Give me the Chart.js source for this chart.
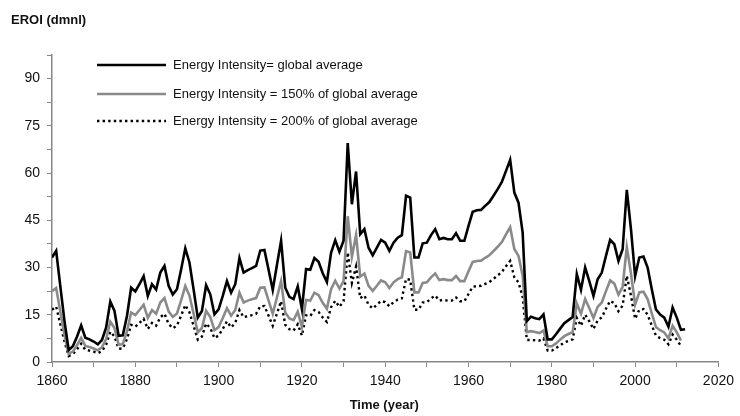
<!DOCTYPE html>
<html>
<head>
<meta charset="utf-8">
<script src="https://cdn.jsdelivr.net/npm/chart.js@4"></script>
<style>
html,body{margin:0;padding:0;background:#fff;}
#wrap{width:740px;height:416px;}
</style>
</head>
<body>
<div id="wrap"><canvas id="c" width="740" height="416"></canvas></div>
<script>
const startYear = 1860;
const endYear = 2012;
const years = Array.from({length: endYear - startYear + 1}, (_, i) => startYear + i);

const seriesNames = [
  "Energy Intensity= global average",
  "Energy Intensity = 150% of global average",
  "Energy Intensity = 200% of global average"
];

const eroiGlobal = [
  33.2, 35.3, 24.0, 13.0, 3.8, 5.0, 8.0, 11.6, 7.7, 7.2,
  6.5, 5.6, 7.0, 11.0, 19.2, 16.2, 8.3, 8.5, 14.6, 23.6,
  22.4, 24.7, 27.3, 21.0, 24.7, 23.0, 28.4, 30.5, 24.2, 21.4,
  23.1, 29.4, 36.1, 31.6, 23.0, 14.1, 16.2, 24.4, 21.5, 15.1,
  16.7, 21.0, 25.7, 22.0, 24.7, 33.0, 28.4, 29.2, 29.8, 30.5,
  35.4, 35.6, 29.3, 22.9, 30.8, 38.5, 23.6, 20.7, 20.0, 24.0,
  16.8, 29.5, 29.3, 33.0, 31.8, 28.2, 25.4, 34.7, 38.7, 35.0,
  38.5, 69.5, 50.1, 60.5, 40.6, 42.2, 36.3, 33.9, 36.3, 38.8,
  37.9, 35.3, 37.9, 39.5, 40.3, 52.8, 52.2, 33.2, 33.2, 37.7,
  37.9, 40.3, 42.2, 39.0, 39.4, 39.0, 39.0, 40.9, 38.5, 38.5,
  43.2, 47.7, 48.2, 48.3, 49.6, 50.8, 52.8, 54.9, 57.2, 60.7,
  64.2, 53.8, 50.6, 41.1, 13.0, 14.4, 13.9, 13.6, 15.1, 7.2,
  7.2, 8.8, 10.6, 12.3, 13.3, 14.3, 27.9, 22.9, 30.0, 25.7,
  21.0, 26.3, 28.4, 33.7, 38.8, 37.4, 32.1, 35.8, 54.7, 42.2,
  27.3, 33.2, 33.5, 30.0, 23.1, 16.7, 15.1, 14.1, 11.2, 17.3,
  14.1, 10.2, 10.4
];

const eroi150 = [
  22.5, 23.5, 16.0, 8.5, 2.6, 3.3, 5.3, 7.7, 5.1, 4.8,
  4.3, 3.7, 4.7, 7.3, 12.8, 10.8, 5.5, 5.7, 9.7, 15.7,
  14.9, 16.5, 18.2, 14.0, 16.5, 15.3, 18.9, 20.3, 16.1, 14.3,
  15.4, 19.6, 24.1, 21.1, 15.3, 9.4, 10.8, 16.3, 14.3, 10.1,
  11.1, 14.0, 17.1, 14.7, 16.5, 22.0, 18.9, 19.5, 19.9, 20.3,
  23.6, 23.7, 19.5, 15.3, 20.5, 25.7, 15.7, 13.8, 13.3, 16.0,
  11.2, 19.7, 19.5, 22.0, 21.2, 18.8, 16.9, 23.1, 25.8, 23.3,
  25.7, 46.3, 33.4, 40.3, 27.1, 28.1, 24.2, 22.6, 24.2, 25.9,
  25.3, 23.5, 25.3, 26.3, 26.9, 35.2, 34.8, 22.1, 22.1, 25.1,
  25.3, 26.9, 28.1, 26.0, 26.3, 26.0, 26.0, 27.3, 25.7, 25.7,
  28.8, 31.8, 32.1, 32.2, 33.1, 33.9, 35.2, 36.6, 38.1, 40.5,
  42.8, 35.9, 33.7, 27.4, 9.5, 9.8, 9.5, 9.2, 10.0, 5.0,
  5.0, 5.9, 7.1, 8.2, 8.9, 9.5, 18.6, 15.3, 20.0, 17.1,
  14.0, 17.5, 18.9, 22.5, 25.9, 24.9, 21.4, 23.9, 36.5, 28.1,
  18.2, 22.1, 22.3, 20.0, 15.4, 11.1, 10.1, 9.4, 7.5, 11.5,
  9.4, 6.8, null
];

const eroi200 = [
  16.6, 17.6, 12.0, 6.5, 1.9, 2.5, 4.0, 5.8, 3.9, 3.6,
  3.3, 2.8, 3.5, 5.5, 9.6, 8.1, 4.2, 4.3, 7.3, 11.8,
  11.2, 12.4, 13.7, 10.5, 12.4, 11.5, 14.2, 15.3, 12.1, 10.7,
  11.6, 14.7, 18.1, 15.8, 11.5, 7.1, 8.1, 12.2, 10.8, 7.6,
  8.4, 10.5, 12.9, 11.0, 12.4, 16.5, 14.2, 14.6, 14.9, 15.3,
  17.7, 17.8, 14.7, 11.5, 15.4, 19.3, 11.8, 10.4, 10.0, 12.0,
  8.4, 14.8, 14.6, 16.5, 15.9, 14.1, 12.7, 17.4, 19.4, 17.5,
  19.3, 34.8, 25.1, 30.3, 20.3, 21.1, 18.2, 17.0, 18.2, 19.4,
  19.0, 17.7, 19.0, 19.8, 20.2, 26.4, 26.1, 16.6, 16.6, 18.9,
  19.0, 20.2, 21.1, 19.5, 19.7, 19.5, 19.5, 20.5, 19.3, 19.3,
  21.6, 23.9, 24.1, 24.2, 24.8, 25.4, 26.4, 27.5, 28.6, 30.4,
  32.1, 26.9, 25.3, 20.6, 7.0, 7.0, 6.9, 6.8, 7.5, 3.6,
  3.6, 4.4, 5.3, 6.2, 6.7, 7.2, 14.0, 11.5, 15.0, 12.9,
  10.5, 13.2, 14.2, 16.9, 19.4, 18.7, 16.1, 17.9, 27.4, 21.1,
  13.7, 16.6, 16.8, 15.0, 11.6, 8.4, 7.6, 7.1, 5.6, 8.7,
  7.1, 5.1, null
];

const yTitle = "EROI (dmnl)";
const xTitle = "Time (year)";

const FONT = "'Liberation Sans', Arial, sans-serif";
const AXIS_COLOR = '#878787';
const TEXT_COLOR = '#111';
const colors = ['#000000', '#8a8a8a', '#000000'];
const widths = [2.6, 2.6, 2.4];
const dashes = [[], [], [2.4, 3.2]];

function toPoints(vals) {
  return years.map((yr, i) => ({x: yr, y: vals[i]}));
}

const extraText = {
  id: 'extraText',
  afterDraw(chart) {
    const ctx = chart.ctx;
    ctx.save();
    ctx.fillStyle = TEXT_COLOR;
    ctx.font = "bold 13px " + FONT;
    ctx.textAlign = 'left';
    ctx.textBaseline = 'alphabetic';
    ctx.fillText(yTitle, 11, 24);
    ctx.textAlign = 'center';
    const area = chart.chartArea;
    ctx.fillText(xTitle, (area.left + area.right) / 2 - 1, 409);
    // legend
    const rows = [65, 94, 121];
    ctx.font = "13px " + FONT;
    ctx.textAlign = 'left';
    ctx.textBaseline = 'middle';
    chart.data.datasets.forEach((ds, i) => {
      const y = rows[i];
      ctx.beginPath();
      ctx.strokeStyle = ds.borderColor;
      ctx.lineWidth = ds.borderWidth;
      ctx.setLineDash(ds.borderDash || []);
      ctx.lineCap = 'butt';
      ctx.moveTo(97, y);
      ctx.lineTo(166, y);
      ctx.stroke();
      ctx.setLineDash([]);
      ctx.fillStyle = TEXT_COLOR;
      ctx.fillText(ds.label, 173, y + 0.5);
    });
    ctx.restore();
  }
};

new Chart(document.getElementById('c'), {
  type: 'line',
  data: {
    datasets: seriesNames.map((name, i) => ({
      label: name,
      data: toPoints([eroiGlobal, eroi150, eroi200][i]),
      borderColor: colors[i],
      backgroundColor: colors[i],
      borderWidth: widths[i],
      borderDash: dashes[i],
      pointRadius: 0,
      tension: 0,
      fill: false,
      spanGaps: false,
      borderCapStyle: 'butt',
      borderJoinStyle: 'miter'
    }))
  },
  options: {
    responsive: false,
    animation: false,
    devicePixelRatio: 1,
    layout: {padding: {left: 0, right: 19, top: 55, bottom: 0}},
    plugins: {
      legend: {display: false},
      tooltip: {enabled: false},
      title: {display: false}
    },
    scales: {
      x: {
        type: 'linear',
        min: 1860,
        max: 2020,
        afterFit(scale) { scale.height = 54; },
        grid: {display: true, drawOnChartArea: false, drawTicks: true, tickLength: 5, color: AXIS_COLOR, lineWidth: 1},
        border: {display: true, color: AXIS_COLOR, width: 1.5},
        ticks: {
          stepSize: 10,
          autoSkip: false,
          maxRotation: 0,
          padding: 6,
          color: TEXT_COLOR,
          font: {family: FONT, size: 14},
          callback: v => (v % 20 === 0 ? String(v) : '')
        }
      },
      y: {
        type: 'linear',
        min: 0,
        max: 97.5,
        afterFit(scale) { scale.width = 52; },
        grid: {display: true, drawOnChartArea: false, drawTicks: true, tickLength: 5, color: AXIS_COLOR, lineWidth: 1},
        border: {display: true, color: AXIS_COLOR, width: 1.5},
        ticks: {
          stepSize: 7.5,
          autoSkip: false,
          padding: 7,
          color: TEXT_COLOR,
          font: {family: FONT, size: 14},
          callback: v => (v % 15 === 0 ? String(v) : '')
        }
      }
    }
  },
  plugins: [extraText]
});
</script>
</body>
</html>
